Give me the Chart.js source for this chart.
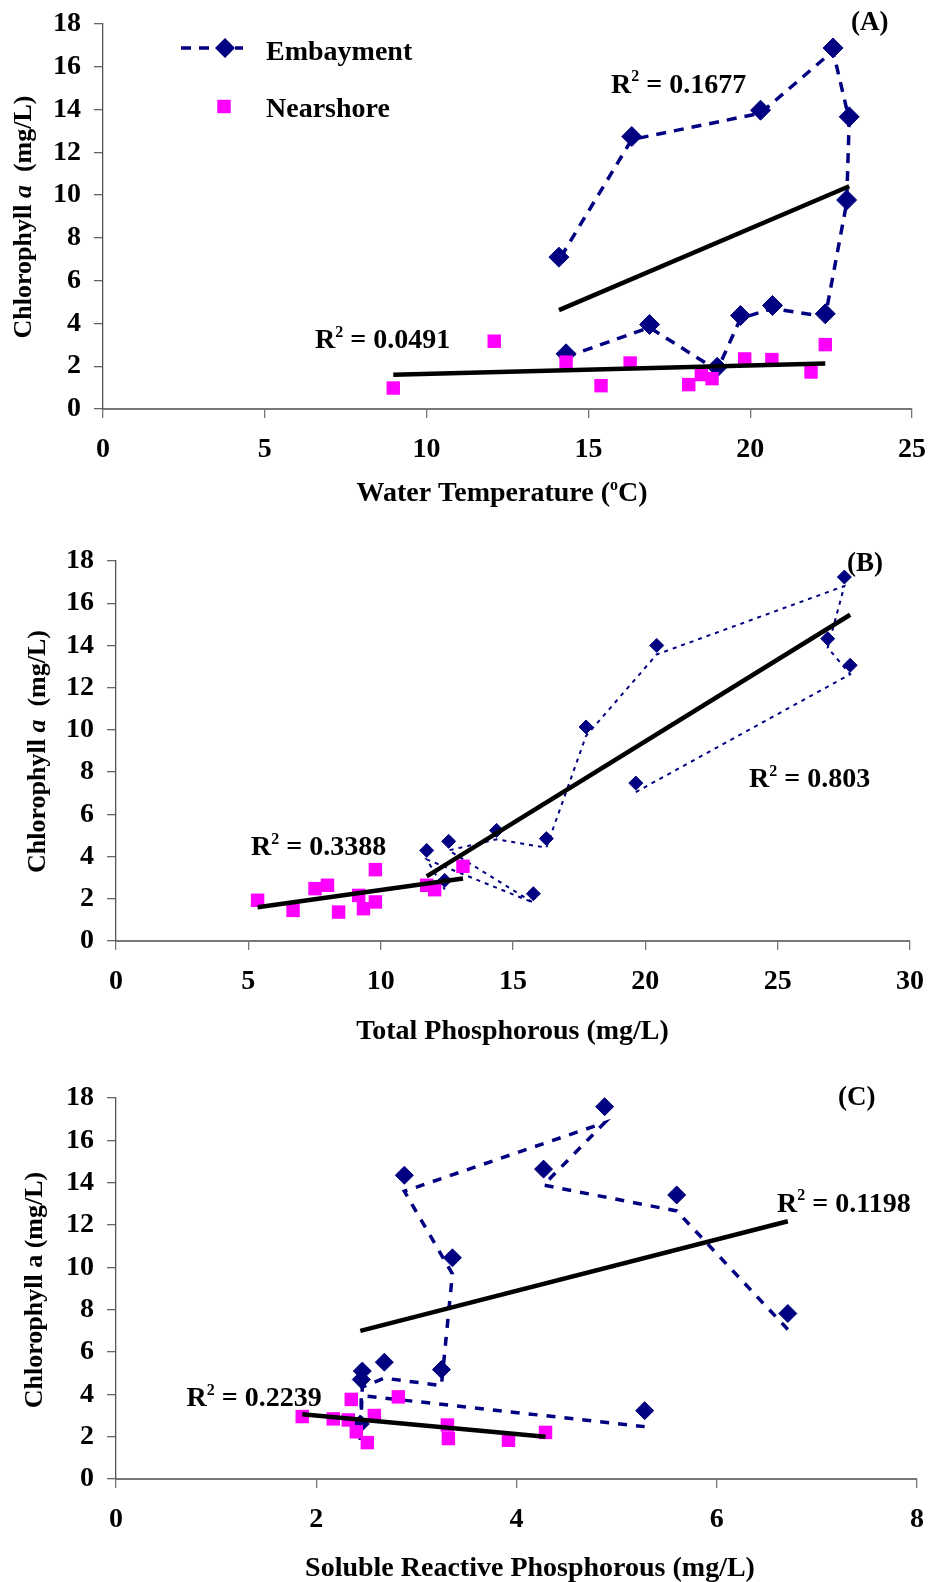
<!DOCTYPE html>
<html>
<head>
<meta charset="utf-8">
<script src="https://cdn.jsdelivr.net/npm/chart.js@4.4.1/dist/chart.umd.min.js"></script>
<style>
html, body { margin: 0; padding: 0; background: #fff; }
body { width: 929px; height: 1582px; position: relative; overflow: hidden; }
canvas { position: absolute; left: 0; }
</style>
</head>
<body>
<canvas id="chartA" width="929" height="515" style="top:0"></canvas>
<canvas id="chartB" width="929" height="535" style="top:515px"></canvas>
<canvas id="chartC" width="929" height="532" style="top:1050px"></canvas>
<script>
// (A) chlorophyll a vs water temperature (degC)
const tempEmbayX = [14.31, 16.89, 18.98, 19.70, 20.69, 22.32, 22.98, 23.06, 22.56, 20.32, 16.34, 14.09];
const tempEmbayY = [2.58, 3.95, 1.95, 4.37, 4.84, 4.45, 9.77, 13.66, 16.88, 13.97, 12.74, 7.10];
const tempNearX = [8.97, 12.09, 14.31, 15.39, 16.29, 18.10, 18.49, 18.82, 19.83, 20.67, 21.88, 22.32];
const tempNearY = [0.98, 3.17, 2.19, 1.09, 2.15, 1.14, 1.61, 1.42, 2.34, 2.31, 1.73, 3.01];

// (B) chlorophyll a vs total phosphorous
const tpEmbayX = [19.64, 27.74, 26.89, 27.52, 20.43, 17.76, 16.26, 14.38, 12.57, 15.77, 11.74, 12.42];
const tpEmbayY = [7.48, 13.06, 14.32, 17.24, 14.00, 10.14, 4.85, 5.24, 4.72, 2.24, 4.29, 2.87];
const tpNearX = [5.35, 6.69, 7.52, 7.99, 8.41, 9.17, 9.35, 9.80, 9.80, 11.74, 12.04, 13.11];
const tpNearY = [1.93, 1.45, 2.48, 2.64, 1.37, 2.16, 1.53, 3.38, 1.85, 2.64, 2.43, 3.54];

// (C) chlorophyll a vs soluble reactive phosphorous
const srpEmbayX = [6.71, 5.60, 4.27, 4.88, 2.88, 3.36, 3.25, 2.68, 2.46, 2.44, 2.45, 5.28];
const srpEmbayY = [7.82, 13.42, 14.64, 17.59, 14.35, 10.45, 5.17, 5.52, 5.10, 2.60, 4.70, 3.23];
const srpNearX = [1.86, 2.17, 2.32, 2.35, 2.40, 2.51, 2.58, 2.82, 3.31, 3.32, 3.92, 4.29];
const srpNearY = [2.95, 2.84, 2.79, 3.76, 2.23, 1.72, 3.00, 3.88, 2.55, 1.91, 1.83, 2.20];

// axis ranges / tick steps
const yMax = 18, yStep = 2;
const xMaxA = 25, xStepA = 5;
const xMaxB = 30, xStepB = 5;
const xMaxC = 8, xStepC = 2;

const r2Labels = {
    A: ['0.1677', '0.0491'],
    B: ['0.3388', '0.803'],
    C: ['0.1198', '0.2239']
};

const FAMILY = '"Liberation Serif", "Times New Roman", serif';
const NAVY = '#000080';
const PINK = '#ff00ff';

Chart.defaults.font.family = FAMILY;
Chart.defaults.font.weight = 'bold';
Chart.defaults.color = '#000';

const toPts = (xs, ys) => xs.map((x, i) => ({ x: x, y: ys[i] }));

// least squares line over the x range of the series (like Excel's linear trendline)
function trend(xs, ys) {
    const n = xs.length;
    const mx = xs.reduce((a, b) => a + b, 0) / n;
    const my = ys.reduce((a, b) => a + b, 0) / n;
    let sxy = 0, sxx = 0;
    xs.forEach((x, i) => { sxy += (x - mx) * (ys[i] - my); sxx += (x - mx) * (x - mx); });
    const b = sxy / sxx, a = my - b * mx;
    const x0 = Math.min(...xs), x1 = Math.max(...xs);
    return [{ x: x0, y: a + b * x0 }, { x: x1, y: a + b * x1 }];
}

function drawParts(ctx, parts, size, align) {
    const fontOf = p => (p.it ? 'italic ' : '') + 'bold ' + (p.sup ? Math.round(size * 0.58) : size) + 'px ' + FAMILY;
    let total = 0;
    const widths = parts.map(p => {
        ctx.font = fontOf(p);
        const w = ctx.measureText(p.t).width;
        total += w;
        return w;
    });
    let x = align === 'center' ? -total / 2 : 0;
    ctx.textAlign = 'left';
    ctx.textBaseline = 'alphabetic';
    parts.forEach((p, i) => {
        ctx.font = fontOf(p);
        ctx.fillText(p.t, x, p.sup ? -size * 0.4 : 0);
        x += widths[i];
    });
}

function drawLegend(chart) {
    const ctx = chart.ctx;
    const ds = chart.data.datasets;
    const line = ds.find(d => d.role === 'embLine');
    const emb = ds.find(d => d.role === 'emb');
    const near = ds.find(d => d.role === 'near');
    ctx.save();
    ctx.strokeStyle = line.borderColor;
    ctx.lineWidth = line.borderWidth;
    ctx.setLineDash(line.borderDash);
    ctx.beginPath();
    ctx.moveTo(181, 48);
    ctx.lineTo(243, 48);
    ctx.stroke();
    ctx.setLineDash([]);
    const r = emb.pointRadius;
    ctx.fillStyle = emb.backgroundColor;
    ctx.beginPath();
    ctx.moveTo(225 - r, 48); ctx.lineTo(225, 48 - r); ctx.lineTo(225 + r, 48); ctx.lineTo(225, 48 + r);
    ctx.closePath();
    ctx.fill();
    const s = near.pointRadius * Math.SQRT1_2;
    ctx.fillStyle = near.backgroundColor;
    ctx.fillRect(224 - s, 106.5 - s, 2 * s, 2 * s);
    ctx.fillStyle = '#000';
    ctx.font = 'bold 28px ' + FAMILY;
    ctx.textAlign = 'left';
    ctx.textBaseline = 'alphabetic';
    ctx.fillText(emb.label, 266, 60);
    ctx.fillText(near.label, 266, 116.5);
    ctx.restore();
}

const panelText = {
    id: 'panelText',
    afterDraw(chart, args, opts) {
        const ctx = chart.ctx;
        (opts.items || []).forEach(it => {
            ctx.save();
            ctx.fillStyle = '#000';
            ctx.translate(it.x, it.y);
            if (it.rotate) ctx.rotate(-Math.PI / 2);
            drawParts(ctx, it.parts, it.size || 28, it.align || 'left');
            ctx.restore();
        });
        if (opts.legend) drawLegend(chart);
    }
};

// in the source figure the dashed connectors sit a few px below the markers
const shiftLines = {
    id: 'shiftLines',
    beforeDatasetDraw(chart, args) {
        const s = chart.data.datasets[args.index].lineShift;
        if (s) { chart.ctx.save(); chart.ctx.translate(0, s); }
    },
    afterDatasetDraw(chart, args) {
        if (chart.data.datasets[args.index].lineShift) chart.ctx.restore();
    }
};

function panelDatasets(embX, embY, nearX, nearY, st) {
    const emb = toPts(embX, embY);
    return [
        { label: 'Embayment trend', data: trend(embX, embY), showLine: true, pointRadius: 0,
          borderColor: '#000', borderWidth: 4.5, order: 0 },
        { label: 'Nearshore trend', data: trend(nearX, nearY), showLine: true, pointRadius: 0,
          borderColor: '#000', borderWidth: 4.5, order: 0 },
        { label: 'Nearshore', role: 'near', data: toPts(nearX, nearY), pointStyle: 'rect', pointRadius: 9.5,
          backgroundColor: PINK, borderColor: PINK, borderWidth: 0, order: 1 },
        { label: 'Embayment', role: 'emb', data: emb, pointStyle: 'rectRot', pointRadius: st.r,
          backgroundColor: NAVY, borderColor: NAVY, borderWidth: 1, order: 2 },
        { label: 'Embayment path', role: 'embLine', data: emb, showLine: true, pointRadius: 0,
          borderColor: NAVY, borderWidth: st.w, borderDash: st.dash, borderCapStyle: 'butt',
          lineShift: st.shift, order: 3 }
    ];
}

function axes(xMax, xStep, left, bottomH) {
    const tickFont = { size: 28, weight: 'bold', family: FAMILY };
    return {
        x: {
            type: 'linear', min: 0, max: xMax,
            ticks: { stepSize: xStep, padding: 15, font: tickFont, color: '#000', maxRotation: 0, autoSkip: false },
            grid: { drawOnChartArea: false, tickLength: 9, color: '#777', lineWidth: 1.3 },
            border: { color: '#777', width: 2 },
            afterFit(s) { s.height = bottomH; s.paddingLeft = 0; s.paddingRight = 0; }
        },
        y: {
            type: 'linear', min: 0, max: yMax,
            ticks: { stepSize: yStep, padding: 13, font: tickFont, color: '#000', autoSkip: false },
            grid: { drawOnChartArea: false, tickLength: 9, color: '#666', lineWidth: 1.3 },
            border: { color: '#555', width: 1.3 },
            afterFit(s) { s.width = left; s.paddingTop = 0; s.paddingBottom = 0; }
        }
    };
}

function makePanel(id, datasets, geo, items, legend) {
    new Chart(document.getElementById(id), {
        type: 'scatter',
        data: { datasets: datasets },
        options: {
            responsive: false,
            animation: false,
            events: [],
            clip: false,
            layout: { padding: { top: geo.top, right: geo.right, left: 0, bottom: 0 } },
            plugins: {
                legend: { display: false },
                tooltip: { enabled: false },
                panelText: { items: items, legend: legend }
            },
            scales: axes(geo.xMax, geo.xStep, geo.left, geo.bottomH)
        },
        plugins: [panelText, shiftLines]
    });
}

const chlItalic = [{ t: 'Chlorophyll ' }, { t: 'a', it: true }, { t: '  (mg/L)' }];

makePanel('chartA',
    panelDatasets(tempEmbayX, tempEmbayY, tempNearX, tempNearY, { r: 10, w: 3.5, dash: [10, 8], shift: 3 }),
    { top: 24, right: 17, left: 103, bottomH: 106, xMax: xMaxA, xStep: xStepA },
    [
        { x: 31, y: 217, rotate: true, align: 'center', size: 26, parts: chlItalic },
        { x: 502, y: 501, align: 'center', parts: [{ t: 'Water Temperature (' }, { t: 'o', sup: true }, { t: 'C)' }] },
        { x: 611, y: 92.5, parts: [{ t: 'R' }, { t: '2', sup: true }, { t: ' = ' + r2Labels.A[0] }] },
        { x: 315, y: 348, parts: [{ t: 'R' }, { t: '2', sup: true }, { t: ' = ' + r2Labels.A[1] }] },
        { x: 851, y: 30, size: 27, parts: [{ t: '(A)' }] }
    ],
    true);

makePanel('chartB',
    panelDatasets(tpEmbayX, tpEmbayY, tpNearX, tpNearY, { r: 7, w: 2, dash: [4, 5], shift: 9 }),
    { top: 46, right: 19, left: 116, bottomH: 109, xMax: xMaxB, xStep: xStepB },
    [
        { x: 44.5, y: 236.5, rotate: true, align: 'center', size: 26, parts: chlItalic },
        { x: 512.5, y: 524, align: 'center', parts: [{ t: 'Total Phosphorous (mg/L)' }] },
        { x: 251, y: 340, parts: [{ t: 'R' }, { t: '2', sup: true }, { t: ' = ' + r2Labels.B[0] }] },
        { x: 749, y: 272, parts: [{ t: 'R' }, { t: '2', sup: true }, { t: ' = ' + r2Labels.B[1] }] },
        { x: 847, y: 56, size: 27, parts: [{ t: '(B)' }] }
    ],
    false);

makePanel('chartC',
    panelDatasets(srpEmbayX, srpEmbayY, srpNearX, srpNearY, { r: 9, w: 3.5, dash: [9, 9], shift: 16 }),
    { top: 48, right: 12, left: 116, bottomH: 103, xMax: xMaxC, xStep: xStepC },
    [
        { x: 42, y: 240, rotate: true, align: 'center', size: 26, parts: [{ t: 'Chlorophyll a (mg/L)' }] },
        { x: 530, y: 526, align: 'center', parts: [{ t: 'Soluble Reactive Phosphorous (mg/L)' }] },
        { x: 777, y: 161.6, parts: [{ t: 'R' }, { t: '2', sup: true }, { t: ' = ' + r2Labels.C[0] }] },
        { x: 186.6, y: 356.3, parts: [{ t: 'R' }, { t: '2', sup: true }, { t: ' = ' + r2Labels.C[1] }] },
        { x: 838, y: 54.5, size: 27, parts: [{ t: '(C)' }] }
    ],
    false);
</script>
</body>
</html>
